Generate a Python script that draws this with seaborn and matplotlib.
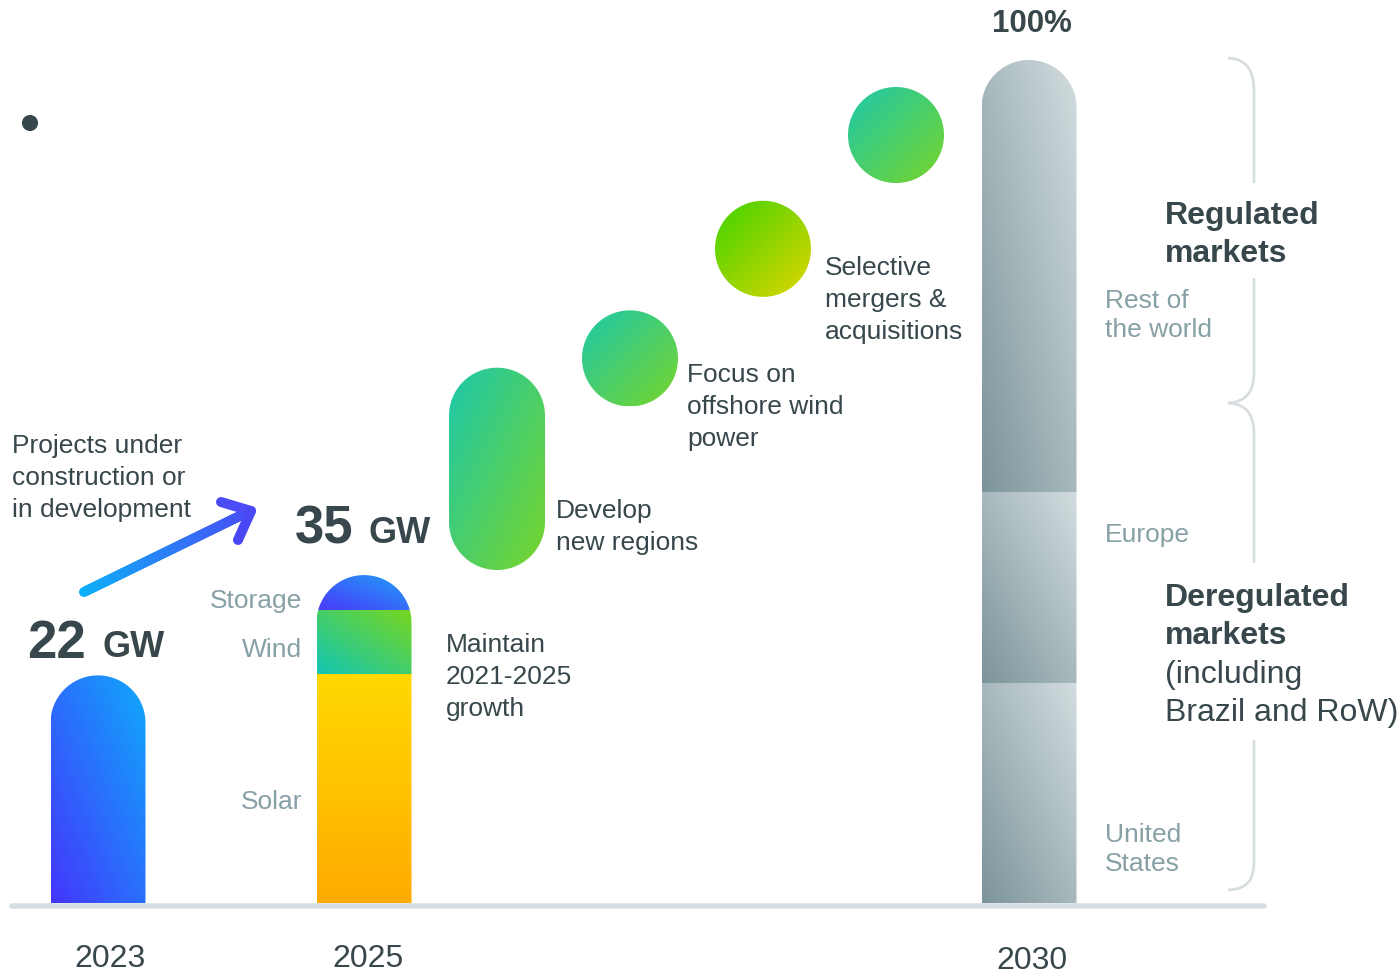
"""
plot.py - capacity roadmap 2023 -> 2030 (gradient bars + growth bubbles)
"""

import numpy as np
import matplotlib
matplotlib.use("Agg")
import matplotlib.pyplot as plt
import seaborn as sns
from matplotlib.path import Path
from matplotlib.patches import PathPatch, Rectangle
from matplotlib.collections import LineCollection
from matplotlib.colors import to_rgb


# ─────────────────────────────────────────────────────────────────────────────
# Data (heights as share of the 2030 portfolio, %)
# ─────────────────────────────────────────────────────────────────────────────

BAR_YEARS = [2023, 2025, 2030]
YEAR_LABELS = ["2023", "2025", "2030"]

CAP_2023 = [27.0]

MIX_2025_LABELS = ["Solar", "Wind", "Storage"]
MIX_2025 = [27.2, 7.5, 4.2]

REGIONS_2030 = ["United\nStates", "Europe", "Rest of\nthe world"]
SHARE_2030 = [26.1, 22.7, 51.2]

STEP_YEARS = [2026, 2027, 2028, 2029]
STEP_LOW = [39.5, 58.9, 71.9, 85.4]
STEP_HIGH = [63.5, 70.3, 83.3, 96.8]

STEP_LABELS = [
    "Maintain\n2021-2025\ngrowth",
    "Develop\nnew regions",
    "Focus on\noffshore wind\npower",
    "Selective\nmergers &\nacquisitions",
]

TOTALS = ["22", "35", "100%"]


# ─────────────────────────────────────────────────────────────────────────────
# Styling
# ─────────────────────────────────────────────────────────────────────────────

sns.set_theme(style="white")
plt.rcParams["font.family"] = ["Liberation Sans", "DejaVu Sans"]

DARK = "#37474b"
GRAY = "#87a0a6"
LINE = "#d6dde0"

W_PX, H_PX = 1397, 974
PX_X = 133.0      # pixels per year
PX_Y = 8.43       # pixels per % unit
X0 = 2023 - 98 / PX_X
Y0 = -(H_PX - 903) / PX_Y

BAR_W = 95 / PX_X
RX = 47.5 / PX_X
RY = 47.5 / PX_Y


# ─────────────────────────────────────────────────────────────────────────────
# Helpers
# ─────────────────────────────────────────────────────────────────────────────

def stadium(xc, lo, hi, rx, ry, round_bottom=False):
    """Bar with rounded top (and optionally rounded bottom)."""
    th = np.linspace(0, np.pi, 60)
    top = np.column_stack([xc + rx * np.cos(th), (hi - ry) + ry * np.sin(th)])
    if round_bottom:
        bot = np.column_stack([xc + rx * np.cos(th + np.pi),
                               (lo + ry) + ry * np.sin(th + np.pi)])
    else:
        bot = np.array([[xc - rx, lo], [xc + rx, lo]])
    verts = np.vstack([top, bot, top[:1]])
    return Path(verts, closed=True)


def add_clip(ax, path):
    patch = PathPatch(path, facecolor="none", edgecolor="none")
    ax.add_patch(patch)
    return patch


def gradient(ax, clip, extent, c0, c1, wu, wv, z=3):
    n = 200
    U, V = np.meshgrid(np.linspace(0, 1, n), np.linspace(0, 1, n))
    t = wu * U + wv * V
    t = (t - t.min()) / (t.max() - t.min())
    img = (1 - t)[..., None] * np.array(to_rgb(c0)) + t[..., None] * np.array(to_rgb(c1))
    im = ax.imshow(img, extent=extent, origin="lower", aspect="auto",
                   interpolation="bilinear", zorder=z)
    im.set_clip_path(clip)


def lines(ax, x, y, pitch, texts, **kw):
    for i, s in enumerate(texts):
        ax.text(x, y + i * pitch, s, va="baseline", **kw)


# ─────────────────────────────────────────────────────────────────────────────
# Figure
# ─────────────────────────────────────────────────────────────────────────────

fig = plt.figure(figsize=(W_PX / 100, H_PX / 100), dpi=100)
ax = fig.add_axes([0, 0, 1, 1])
ov = fig.add_axes([0, 0, 1, 1])
for a in (ax, ov):
    a.axis("off")
    a.patch.set_alpha(0)

# 2023 bar
x23 = BAR_YEARS[0]
clip = add_clip(ax, stadium(x23, 0, CAP_2023[0], RX, RY))
gradient(ax, clip, [x23 - RX, x23 + RX, 0, CAP_2023[0]], "#4436fc", "#0faafb", 1, 1)

# 2025 stacked bar
x25 = BAR_YEARS[1]
cum25 = np.concatenate([[0], np.cumsum(MIX_2025)])
clip = add_clip(ax, stadium(x25, 0, cum25[-1], RX, RY))
mix_colors = [("#ffab00", "#ffd900", 0, 1),
              ("#12c6b5", "#78d61e", 1, 1),
              ("#4a38fa", "#1fa2f8", 1, 1)]
for i, (c0, c1, wu, wv) in enumerate(mix_colors):
    gradient(ax, clip, [x25 - RX, x25 + RX, cum25[i], cum25[i + 1]], c0, c1, wu, wv)

# 2030 stacked bar
x30 = BAR_YEARS[2]
cum30 = np.concatenate([[0], np.cumsum(SHARE_2030)])
clip = add_clip(ax, stadium(x30, 0, cum30[-1], RX, RY))
for i in range(len(SHARE_2030)):
    gradient(ax, clip, [x30 - RX, x30 + RX, cum30[i], cum30[i + 1]],
             "#7b949a", "#d3dddf", 1, 1)

# growth bubbles
step_colors = [("#1cc8ac", "#78d52a"), ("#1cc8ac", "#78d52a"),
               ("#3dd400", "#e2d600"), ("#1cc8ac", "#78d52a")]
r_bx = 48 / PX_X
r_by = 48 / PX_Y
for yr, lo, hi, (c0, c1) in zip(STEP_YEARS, STEP_LOW, STEP_HIGH, step_colors):
    clip = add_clip(ax, stadium(yr, lo, hi, r_bx, r_by, round_bottom=True))
    gradient(ax, clip, [yr - r_bx, yr + r_bx, lo, hi], c0, c1, 1, -1)

ax.set_xlim(X0, X0 + W_PX / PX_X)
ax.set_ylim(Y0, Y0 + H_PX / PX_Y)

# ── overlay in pixel coordinates ────────────────────────────────────────────
ov.set_xlim(0, W_PX)
ov.set_ylim(H_PX, 0)

# baseline
sns.lineplot(x=[12, 1264], y=[905.5, 905.5], ax=ov, color=LINE, linewidth=4,
             solid_capstyle="round", legend=False, zorder=5)

# bullet dot
sns.scatterplot(x=[30], y=[123], ax=ov, s=135, color=DARK, edgecolor="none",
                legend=False)

# arrow 2023 -> 2025
tail, tip = np.array([84, 592]), np.array([250, 511])
n = 60
pts = tail + np.linspace(0, 1, n + 1)[:, None] * (tip - tail)
segs = np.stack([pts[:-1], pts[1:]], axis=1)
c_a, c_b = np.array(to_rgb("#0eb0f8")), np.array(to_rgb("#4650f4"))
cols = [(1 - t) * c_a + t * c_b for t in np.linspace(0, 1, n)]
ov.add_collection(LineCollection(segs, colors=cols, linewidths=7.2,
                                 capstyle="round", zorder=4))
ov.plot([221, 251], [502, 511], color="#4a4cf5", lw=7.2, solid_capstyle="round", zorder=4)
ov.plot([251, 238], [511, 540], color="#4a48f5", lw=7.2, solid_capstyle="round", zorder=4)

# brace
brace = Path(
    [(1228, 58), (1248, 59), (1254, 72), (1254, 92),
     (1254, 372),
     (1254, 392), (1246, 402), (1228, 403),
     (1246, 404), (1254, 414), (1254, 434),
     (1254, 860),
     (1254, 880), (1248, 889), (1228, 890)],
    [Path.MOVETO, Path.CURVE4, Path.CURVE4, Path.CURVE4,
     Path.LINETO,
     Path.CURVE4, Path.CURVE4, Path.CURVE4,
     Path.CURVE4, Path.CURVE4, Path.CURVE4,
     Path.LINETO,
     Path.CURVE4, Path.CURVE4, Path.CURVE4],
)
ov.add_patch(PathPatch(brace, facecolor="none", edgecolor=LINE, lw=1.9, zorder=2))
ov.add_patch(Rectangle((1240, 183), 30, 95, facecolor="white", edgecolor="none", zorder=3))
ov.add_patch(Rectangle((1240, 563), 30, 177, facecolor="white", edgecolor="none", zorder=3))

# ── texts ───────────────────────────────────────────────────────────────────
BODY = 19
BIG = 23

lines(ov, 12, 453, 32, ["Projects under", "construction or", "in development"],
      fontsize=BODY, color=DARK)

ov.text(27, 658, TOTALS[0], fontsize=38, fontweight="bold", color=DARK, va="baseline")
ov.text(102, 657, "GW", fontsize=26, fontweight="bold", color=DARK, va="baseline")
ov.text(295, 544, TOTALS[1], fontsize=38, fontweight="bold", color=DARK, va="baseline")
ov.text(368, 543, "GW", fontsize=26, fontweight="bold", color=DARK, va="baseline")
ov.text(1032, 32, TOTALS[2], fontsize=22.5, fontweight="bold", color=DARK,
        va="baseline", ha="center")

for lab, y in zip(MIX_2025_LABELS, [809, 657, 608]):
    ov.text(302, y, lab, fontsize=BODY, color=GRAY, ha="right", va="baseline")

for lab, (x, y) in zip(STEP_LABELS, [(446, 652), (556, 518), (687, 382), (825, 275)]):
    lines(ov, x, y, 32, lab.split("\n"), fontsize=BODY, color=DARK)

for lab, y in zip(REGIONS_2030, [842, 542, 308]):
    lines(ov, 1105, y, 29, lab.split("\n"), fontsize=BODY, color=GRAY)

lines(ov, 1165, 224, 38, ["Regulated", "markets"], fontsize=BIG,
      fontweight="bold", color=DARK)
lines(ov, 1165, 606, 38, ["Deregulated", "markets"], fontsize=BIG,
      fontweight="bold", color=DARK)
lines(ov, 1165, 683, 38, ["(including", "Brazil and RoW)"], fontsize=BIG, color=DARK)

for lab, x, y in zip(YEAR_LABELS, [110, 368, 1032], [967, 967, 969]):
    ov.text(x, y, lab, fontsize=BIG, color=DARK, ha="center", va="baseline")

fig.savefig("out.png", dpi=100)
